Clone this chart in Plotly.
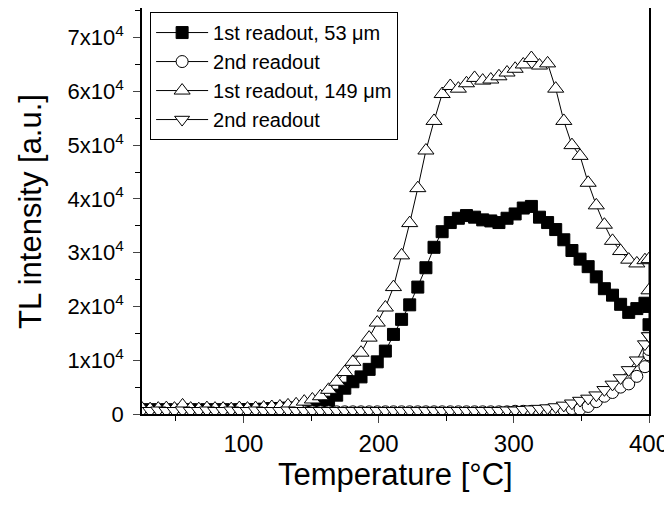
import plotly.graph_objects as go

# Temperatures (°C); the last entries repeat 400 where heating stops
T = [25, 31, 37, 43, 49, 55, 61, 67, 73, 79, 85, 91, 97, 103, 109, 115, 121, 127,
     133, 139, 145, 151, 157, 163, 169, 175, 181, 187, 193, 199, 205, 211, 217,
     223, 229, 235, 241, 247, 253, 259, 265, 271, 277, 283, 289, 295, 301, 307,
     313, 319, 325, 331, 337, 343, 349, 355, 361, 367, 373, 379, 385, 391, 397,
     400, 400]

# TL intensity, in units of 1e4 a.u.
first_53 = [0.07, 0.08, 0.07, 0.08, 0.07, 0.07, 0.08, 0.07, 0.08, 0.07, 0.08, 0.07,
            0.08, 0.08, 0.08, 0.09, 0.10, 0.10, 0.11, 0.11, 0.12, 0.12, 0.14, 0.22,
            0.35, 0.48, 0.60, 0.69, 0.83, 0.97, 1.17, 1.48, 1.76, 2.03, 2.36, 2.72,
            3.10, 3.39, 3.56, 3.64, 3.69, 3.66, 3.61, 3.59, 3.56, 3.64, 3.72, 3.83,
            3.86, 3.66, 3.56, 3.43, 3.24, 3.04, 2.88, 2.74, 2.55, 2.33, 2.21, 2.04,
            1.89, 1.96, 2.06, 2.00, 1.66]

second_53 = [0.04, 0.04, 0.05, 0.04, 0.04, 0.05, 0.04, 0.04, 0.05, 0.04, 0.04, 0.05,
             0.04, 0.04, 0.05, 0.04, 0.04, 0.04, 0.05, 0.04, 0.04, 0.04, 0.04, 0.04,
             0.04, 0.04, 0.04, 0.04, 0.04, 0.04, 0.04, 0.04, 0.04, 0.04, 0.04, 0.04,
             0.04, 0.04, 0.04, 0.04, 0.04, 0.04, 0.04, 0.04, 0.04, 0.04, 0.05, 0.05,
             0.05, 0.05, 0.06, 0.07, 0.08, 0.10, 0.09, 0.14, 0.23, 0.33, 0.40, 0.50,
             0.56, 0.70, 0.88, 1.10, 1.20]

first_149 = [0.10, 0.09, 0.10, 0.11, 0.10, 0.16, 0.10, 0.09, 0.11, 0.10, 0.10, 0.09,
             0.11, 0.10, 0.11, 0.12, 0.13, 0.14, 0.16, 0.18, 0.23, 0.27, 0.33, 0.45,
             0.60, 0.78, 0.97, 1.14, 1.42, 1.70, 1.98, 2.36, 2.95, 3.55, 4.20, 4.90,
             5.45, 5.95, 6.10, 6.05, 6.15, 6.25, 6.20, 6.22, 6.28, 6.35, 6.42, 6.50,
             6.62, 6.48, 6.52, 6.05, 5.45, 5.00, 4.80, 4.30, 3.88, 3.52, 3.22, 3.03,
             2.87, 2.80, 2.86, 2.88, 2.30]

second_149 = [0.06, 0.06, 0.07, 0.06, 0.06, 0.07, 0.06, 0.06, 0.07, 0.06, 0.06, 0.07,
              0.06, 0.06, 0.07, 0.06, 0.06, 0.06, 0.07, 0.06, 0.06, 0.06, 0.06, 0.06,
              0.06, 0.06, 0.06, 0.06, 0.06, 0.06, 0.06, 0.06, 0.06, 0.06, 0.06, 0.06,
              0.06, 0.06, 0.06, 0.06, 0.06, 0.06, 0.06, 0.06, 0.06, 0.07, 0.07, 0.08,
              0.09, 0.10, 0.11, 0.13, 0.16, 0.20, 0.25, 0.29, 0.35, 0.45, 0.55, 0.67,
              0.82, 1.00, 1.30, 1.45, 1.45]

names = ["1st readout, 53 μm", "2nd readout", "1st readout, 149 μm", "2nd readout"]
y_ticks = [0, 1, 2, 3, 4, 5, 6, 7]
y_tick_text = ["0"] + [f"{k}x10<sup>4</sup>" for k in y_ticks[1:]]
x_ticks = [100, 200, 300, 400]
x_title = "Temperature [°C]"
y_title = "TL intensity [a.u.]"

series = [first_53, second_53, first_149, second_149]
symbols = ["square", "circle", "triangle-up", "triangle-down"]
fills = ["black", "white", "white", "white"]
sizes = [12, 12, 14, 13]

FONT = "Arial, Liberation Sans, sans-serif"

fig = go.Figure()
for name, vals, sym, fc, sz in zip(names, series, symbols, fills, sizes):
    fig.add_trace(go.Scatter(
        x=T, y=[v * 1e4 for v in vals], name=name, mode="lines+markers",
        line=dict(color="black", width=1),
        marker=dict(symbol=sym, size=sz, color=fc,
                    line=dict(color="black", width=1)),
    ))

fig.update_layout(
    width=664, height=500,
    margin=dict(l=134, r=23, t=0, b=94, autoexpand=False),
    paper_bgcolor="white", plot_bgcolor="white",
    font=dict(family=FONT, color="black"),
    showlegend=True,
    legend=dict(x=0.016, y=0.99, xanchor="left", yanchor="top",
                bordercolor="black", borderwidth=1, bgcolor="white",
                font=dict(size=20, family=FONT), tracegroupgap=0,
                itemwidth=52),
    annotations=[
        dict(text=x_title, xref="paper", yref="paper", x=0.5, y=-0.148,
             xanchor="center", yanchor="middle", showarrow=False,
             font=dict(size=31)),
        dict(text=y_title, xref="paper", yref="paper", x=-0.221, y=0.5,
             xanchor="center", yanchor="middle", showarrow=False, textangle=-90,
             font=dict(size=31)),
    ],
)
fig.update_xaxes(
    range=[25, 400], tickvals=x_ticks, ticks="outside", ticklen=7, tickwidth=1,
    showline=True, linecolor="black", linewidth=1.5, mirror=True,
    showgrid=False, zeroline=False, automargin=False,
    tickfont=dict(size=24),
    minor=dict(tickvals=[50, 150, 250, 350], ticks="outside", ticklen=5, tickcolor="black"),
)
fig.update_yaxes(
    range=[0, 7.55e4], tickvals=[v * 1e4 for v in y_ticks], ticktext=y_tick_text,
    ticks="outside", ticklen=7, tickwidth=1, ticklabelstandoff=5,
    showline=True, linecolor="black", linewidth=1.5, mirror=True,
    showgrid=False, zeroline=False, automargin=False,
    tickfont=dict(size=22),
    minor=dict(tickvals=[5000, 15000, 25000, 35000, 45000, 55000, 65000, 75000],
               ticks="outside", ticklen=5, tickcolor="black"),
)

fig.write_html("out.html")
